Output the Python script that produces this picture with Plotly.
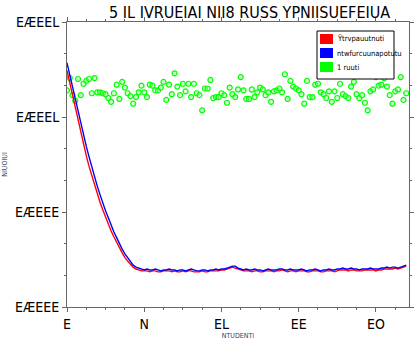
import plotly.graph_objects as go

# ---- data ----
blue_vals = [2.57, 2.44, 2.31, 2.18, 2.05, 1.93, 1.81, 1.69, 1.58, 1.47, 1.37, 1.27, 1.18, 1.09,
             1.01, 0.94, 0.86, 0.79, 0.73, 0.66, 0.61, 0.56, 0.52, 0.47, 0.44, 0.42, 0.41, 0.40,
             0.39, 0.40, 0.39, 0.39, 0.40, 0.39, 0.38, 0.39, 0.39, 0.40, 0.39, 0.39,
             0.38, 0.39, 0.39, 0.38, 0.39, 0.40, 0.39, 0.38, 0.38, 0.39, 0.39, 0.38,
             0.39, 0.39, 0.40, 0.39, 0.40, 0.40, 0.41, 0.42, 0.43, 0.43, 0.41, 0.40,
             0.39, 0.40, 0.39, 0.39, 0.40, 0.39, 0.39, 0.38, 0.39, 0.40, 0.39, 0.39,
             0.39, 0.40, 0.40, 0.39, 0.39, 0.40, 0.39, 0.39, 0.39, 0.40, 0.39, 0.38,
             0.39, 0.39, 0.40, 0.39, 0.38, 0.39, 0.39, 0.40, 0.39, 0.39, 0.40, 0.40,
             0.41, 0.40, 0.40, 0.41, 0.40, 0.40, 0.39, 0.40, 0.40, 0.40, 0.41, 0.40,
             0.40, 0.40, 0.41, 0.41, 0.42, 0.41, 0.42, 0.42, 0.41, 0.42, 0.43, 0.44]
red_vals = [2.49, 2.36, 2.22, 2.09, 1.96, 1.83, 1.71, 1.59, 1.48, 1.38, 1.28, 1.19, 1.10, 1.02,
            0.94, 0.87, 0.80, 0.74, 0.68, 0.62, 0.57, 0.52, 0.48, 0.45, 0.42, 0.40, 0.39, 0.38,
            0.38, 0.38, 0.37, 0.38, 0.38, 0.37, 0.37, 0.38, 0.38, 0.38, 0.37, 0.38,
            0.37, 0.37, 0.38, 0.37, 0.38, 0.38, 0.37, 0.37, 0.37, 0.38, 0.37, 0.37,
            0.38, 0.38, 0.38, 0.38, 0.39, 0.39, 0.40, 0.41, 0.42, 0.41, 0.40, 0.39,
            0.38, 0.38, 0.38, 0.37, 0.38, 0.38, 0.37, 0.37, 0.38, 0.38, 0.38, 0.37,
            0.38, 0.38, 0.39, 0.38, 0.37, 0.38, 0.38, 0.37, 0.38, 0.38, 0.38, 0.37,
            0.37, 0.38, 0.38, 0.38, 0.37, 0.37, 0.38, 0.38, 0.38, 0.37, 0.38, 0.39,
            0.39, 0.39, 0.38, 0.39, 0.39, 0.38, 0.38, 0.38, 0.39, 0.39, 0.39, 0.39,
            0.38, 0.39, 0.39, 0.40, 0.40, 0.40, 0.40, 0.41, 0.40, 0.41, 0.42, 0.43]
green_vals = [2.28, 2.41, 2.23, 2.17, 2.40, 2.23, 2.35, 2.38, 2.40, 2.25, 2.41, 2.26, 2.26, 2.25,
              2.24, 2.20, 2.16, 2.25, 2.34, 2.19, 2.37, 2.31, 2.25, 2.22, 2.14, 2.21, 2.26, 2.33,
              2.26, 2.21, 2.34, 2.33, 2.28, 2.28, 2.31, 2.37, 2.18, 2.34, 2.24, 2.46, 2.32, 2.23,
              2.35, 2.27, 2.35, 2.21, 2.35, 2.25, 2.23, 2.07, 2.30, 2.30, 2.39, 2.20, 2.21, 2.21,
              2.25, 2.23, 2.15, 2.31, 2.24, 2.21, 2.29, 2.42, 2.28, 2.19, 2.19, 2.29, 2.21, 2.26,
              2.31, 2.29, 2.23, 2.26, 2.16, 2.27, 2.28, 2.30, 2.26, 2.45, 2.19, 2.38, 2.32, 2.30,
              2.28, 2.24, 2.14, 2.38, 2.21, 2.21, 2.34, 2.35, 2.26, 2.24, 2.20, 2.27, 2.16, 2.27,
              2.20, 2.35, 2.24, 2.22, 2.20, 2.32, 2.37, 2.24, 2.20, 2.23, 2.15, 2.07, 2.27, 2.29,
              2.42, 2.33, 2.34, 2.41, 2.32, 2.23, 2.14, 2.27, 2.29, 2.42, 2.18, 2.25]
epochs = list(range(len(blue_vals)))

series_names = ["Ÿtrvpauutnuti", "ntwfurcuunapotutu", "1 ruuti"]
series_colors = ["#ff0000", "#0000ff", "#00ff00"]
x_tickvals = [0, 28, 56, 84, 112]
x_ticktext = ["E", "N", "EL", "EE", "EO"]
y_tickvals = [0, 1, 2, 3]
y_ticktext = ["EÆEEE", "EÆEEE", "EÆEEL", "EÆEEL"]
title_text = "5 IL IVRUEIAI NII8 RUSS YPNIISUEFEIUA"
x_title = "NTUDENTI"
y_title = "NIUOIUI"

FONT = "Liberation Sans Narrow, DejaVu Sans Condensed, Liberation Serif, serif"

fig = go.Figure()
fig.add_trace(go.Scatter(x=epochs, y=green_vals, mode="markers", name=series_names[2],
                         marker=dict(symbol="circle", size=5, color="rgba(150,255,150,0.4)",
                                     line=dict(color=series_colors[2], width=1.2))))
fig.add_trace(go.Scatter(x=epochs, y=red_vals, mode="lines", name=series_names[0],
                         line=dict(color=series_colors[0], width=1.4)))
fig.add_trace(go.Scatter(x=epochs, y=blue_vals, mode="lines", name=series_names[1],
                         line=dict(color=series_colors[1], width=1.4)))

axis_common = dict(showline=True, linecolor="#666666", linewidth=1, mirror="ticks",
                   ticks="outside", ticklen=4, tickcolor="#666666", showgrid=False,
                   zeroline=False, tickfont=dict(family=FONT, size=14, color="black"))
fig.update_xaxes(range=[0, 124], tickvals=x_tickvals, ticktext=x_ticktext,
                 minor=dict(dtick=7, tick0=0, ticks="outside", ticklen=2, tickcolor="#666666"),
                 title=dict(text=x_title, font=dict(family=FONT, size=7), standoff=2),
                 **axis_common)
fig.update_yaxes(range=[0, 3], tickvals=y_tickvals, ticktext=y_ticktext,
                 minor=dict(dtick=1/3, tick0=0, ticks="outside", ticklen=2, tickcolor="#666666"),
                 title=dict(text=y_title, font=dict(family=FONT, size=7), standoff=6),
                 **axis_common)

# Legend box drawn in paper coordinates (matplotlib-style patch legend)
PL, PW, PB, PH = 67, 342, 307, 285   # plot area in pixels
def px_x(p):
    return (p - PL) / PW
def px_y(p):
    return (PB - p) / PH

shapes = [dict(type="rect", xref="paper", yref="paper",
               x0=px_x(317), x1=px_x(394), y0=px_y(79), y1=px_y(31),
               line=dict(color="black", width=1), fillcolor="white", layer="above")]
annotations = []
for i, (name, col) in enumerate(zip(series_names, series_colors)):
    cy = 39 + i * 14
    shapes.append(dict(type="rect", xref="paper", yref="paper",
                       x0=px_x(320), x1=px_x(333), y0=px_y(cy + 5), y1=px_y(cy - 5),
                       line=dict(width=0), fillcolor=col, layer="above"))
    annotations.append(dict(xref="paper", yref="paper", x=px_x(335), y=px_y(cy),
                            xanchor="left", yanchor="middle", showarrow=False, text=name,
                            font=dict(family=FONT, size=7.5, color="black")))

fig.update_layout(
    width=416, height=340,
    margin=dict(l=67, r=7, t=22, b=33, autoexpand=False),
    paper_bgcolor="white", plot_bgcolor="white",
    showlegend=False,
    shapes=shapes, annotations=annotations,
    title=dict(text=title_text, x=0.6, xanchor="center", y=0.965, yanchor="middle",
               font=dict(family=FONT, size=16, color="black")),
)

fig.write_html("out.html")
